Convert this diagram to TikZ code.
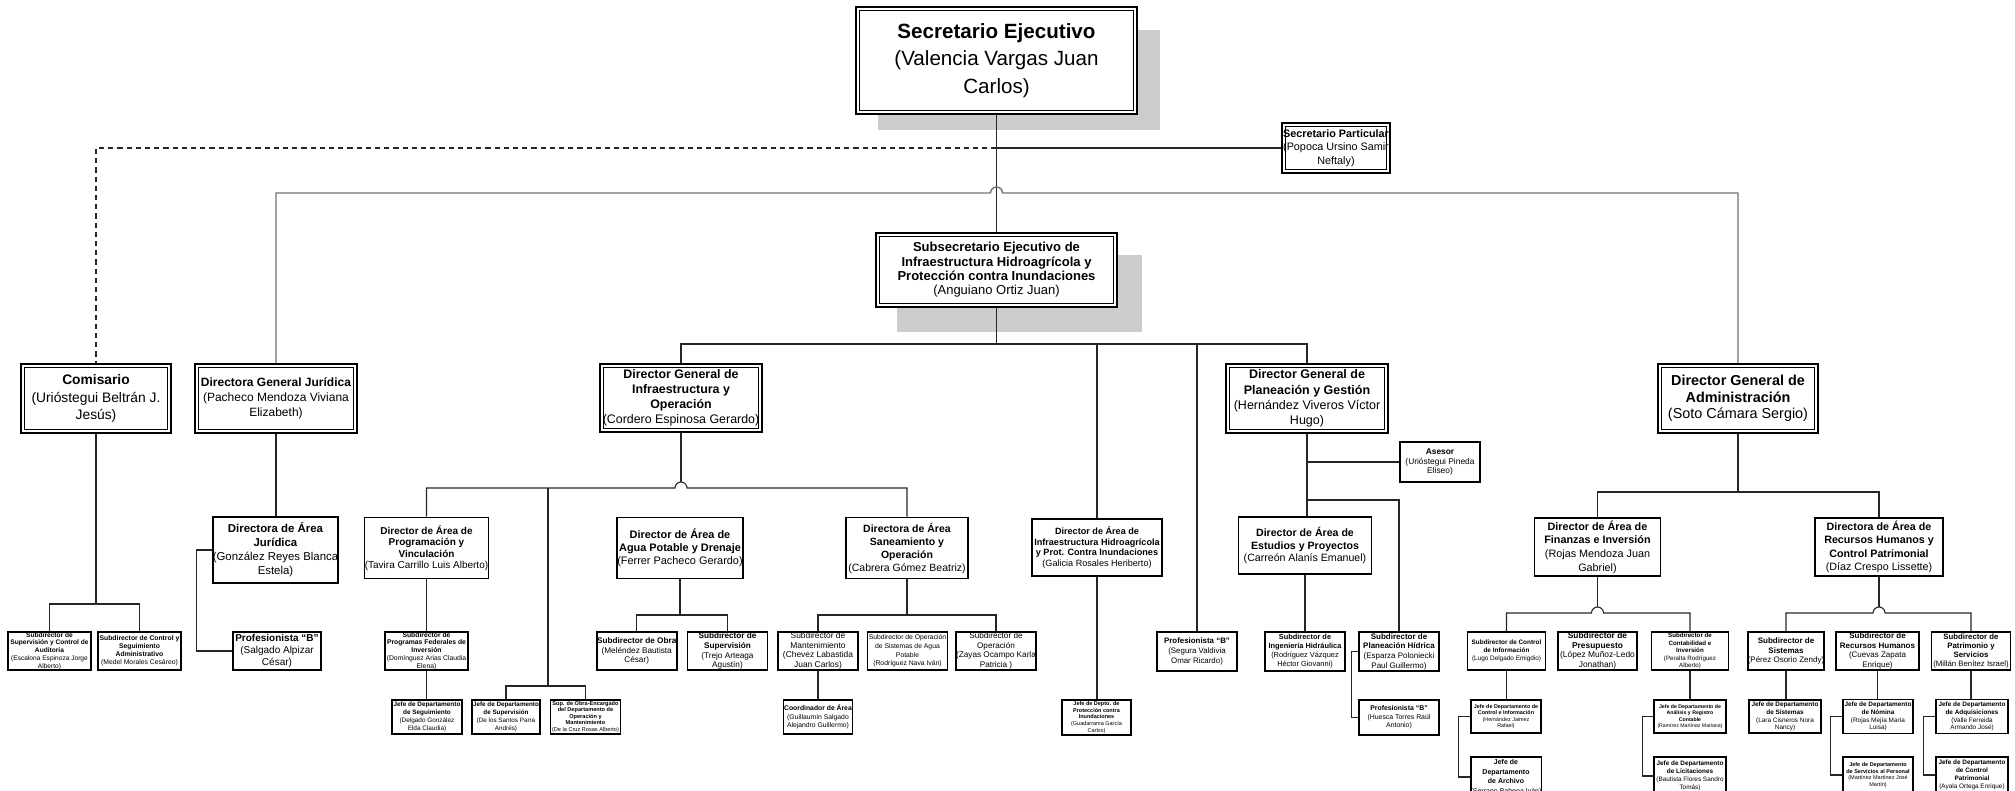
\documentclass[tikz,border=0pt]{standalone}
\usepackage{fontspec}
\setmainfont{Liberation Sans}
\usetikzlibrary{calc}
\newcommand\fs[2]{\fontsize{#1pt}{#2pt}\selectfont}
\newcommand\B[1]{\textbf{#1}}
\begin{document}
\begin{tikzpicture}[x=0.5pt,y=-0.5pt,
  conn/.style={draw=black!85,line width=0.55pt},
  gconn/.style={draw=black!55,line width=0.7pt},
  dconn/.style={draw=black!85,line width=0.55pt,dash pattern=on 2.6pt off 2pt},
  bx/.style 2 args={minimum width=#1*0.5pt,minimum height=#2*0.5pt,inner sep=0pt,align=center},
  obox/.style={draw,line width=0.9pt,fill=white},
  dbox/.style={draw,line width=1pt,fill=white,path picture={\draw[line width=0.45pt] ([shift={(1.7pt,-1.7pt)}]path picture bounding box.north west) rectangle ([shift={(-1.7pt,1.7pt)}]path picture bounding box.south east);}},
  shd/.style={fill=black!20}
]
\useasboundingbox (0,0) rectangle (2015,791);
\clip (0,0) rectangle (2015,791);
% shadows
\fill[shd] (878,30) rectangle (1160,130);
\fill[shd] (897,255) rectangle (1142,332);

% top level
\node[dbox,bx={281}{107},font=\fs{10.3}{13.75}] (A) at (996.5,60.5) {\B{Secretario Ejecutivo}\\(Valencia Vargas Juan\\Carlos)};
\node[dbox,bx={108}{50},font=\fs{5.4}{6.7}] (B) at (1336,148) {\B{Secretario Particular}\\(Popoca Ursino Samir\\Neftaly)};
\node[dbox,bx={241}{74},font=\fs{6.5}{7.2}] (C) at (996.5,270) {\B{Subsecretario Ejecutivo de}\\\B{Infraestructura Hidroagrícola y}\\\B{Protección contra Inundaciones}\\(Anguiano Ortiz Juan)};

% row 2
\node[dbox,bx={150}{69},font=\fs{6.9}{8.75}] (D) at (96,398.5) {\B{Comisario}\\(Urióstegui Beltrán J.\\Jesús)};
\node[dbox,bx={162}{69},font=\fs{6}{7.35}] (E) at (276,398.5) {\B{Directora General Jurídica}\\(Pacheco Mendoza Viviana\\Elizabeth)};
\node[dbox,bx={162}{68},font=\fs{6.2}{7.5}] (F) at (681,398) {\B{Director General de}\\\B{Infraestructura y}\\\B{Operación}\\(Cordero Espinosa Gerardo)};
\node[dbox,bx={162}{69},font=\fs{6.25}{7.6}] (G) at (1307,398.5) {\B{Director General de}\\\B{Planeación y Gestión}\\(Hernández Viveros Víctor\\Hugo)};
\node[dbox,bx={160}{69},font=\fs{7.2}{8.3}] (H) at (1738,398.5) {\B{Director General de}\\\B{Administración}\\(Soto Cámara Sergio)};

% row 3
\node[obox,bx={123}{66},font=\fs{5.7}{7}] (J) at (275.5,550) {\B{Directora de Área}\\\B{Jurídica}\\(González Reyes Blanca\\Estela)};
\node[obox,bx={124}{61},font=\fs{5}{5.7}] (L) at (426.5,548) {\B{Director de Área de}\\\B{Programación y}\\\B{Vinculación}\\(Tavira Carrillo Luis Alberto)};
\node[obox,bx={123}{61},font=\fs{5.45}{6.5}] (M) at (680,548) {\B{Director de Área de}\\\B{Agua Potable y Drenaje}\\(Ferrer Pacheco Gerardo)};
\node[obox,bx={122}{61},font=\fs{5.25}{6.5}] (N) at (907,548) {\B{Directora de Área}\\\B{Saneamiento y}\\\B{Operación}\\(Cabrera Gómez Beatriz)};
\node[obox,bx={130}{57},font=\fs{4.55}{5.35}] (V) at (1097,547.5) {\B{Director de Área de}\\\B{Infraestructura Hidroagrícola}\\\B{y Prot. Contra Inundaciones}\\(Galicia Rosales Heriberto)};
\node[obox,bx={133}{57},font=\fs{5.3}{6.25}] (Y) at (1305,545.5) {\B{Director de Área de}\\\B{Estudios y Proyectos}\\(Carreón Alanís Emanuel)};
\node[obox,bx={126}{58},font=\fs{5.4}{6.85}] (Fin) at (1597.5,547) {\B{Director de Área de}\\\B{Finanzas e Inversión}\\(Rojas Mendoza Juan\\Gabriel)};
\node[obox,bx={128}{58},font=\fs{5.35}{6.75}] (RH) at (1879,547) {\B{Directora de Área de}\\\B{Recursos Humanos y}\\\B{Control Patrimonial}\\(Díaz Crespo Lissette)};
\node[obox,bx={80}{40},font=\fs{4.2}{4.8},line width=0.7pt] (As) at (1440,462) {\B{Asesor}\\(Urióstegui Pineda\\Eliseo)};

% row 4
\node[obox,bx={83}{38},font=\fs{3.3}{3.9}] (I1) at (49.5,651) {\B{Subdirector de}\\\B{Supervisión y Control de}\\\B{Auditoría}\\(Escalona Espinoza Jorge\\Alberto)};
\node[obox,bx={83}{38},font=\fs{3.4}{4.0}] (I2) at (139.5,651) {\B{Subdirector de Control y}\\\B{Seguimiento}\\\B{Administrativo}\\(Medel Morales Cesáreo)};
\node[obox,bx={88}{38},font=\fs{5}{6.1}] (K) at (277,651) {\B{Profesionista “B”}\\(Salgado Alpizar\\César)};
\node[obox,bx={83}{38},font=\fs{3.4}{3.9}] (O) at (426.5,651) {\B{Subdirector de}\\\B{Programas Federales de}\\\B{Inversión}\\(Domínguez Arias Claudia\\Elena)};
\node[obox,bx={80}{38},font=\fs{4.1}{4.9}] (S) at (636.7,651) {\B{Subdirector de Obra}\\(Meléndez Bautista\\César)};
\node[obox,bx={80}{38},font=\fs{4.1}{4.9}] (T) at (727.5,651) {\B{Subdirector de}\\\B{Supervisión}\\(Trejo Arteaga\\Agustín)};
\node[obox,bx={80}{38},font=\fs{4.2}{4.75}] (U0) at (818,651) {Subdirector de\\Mantenimiento\\(Chevez Labastida\\Juan Carlos)};
\node[obox,bx={80}{38},font=\fs{3.4}{4.3}] (U1) at (907.5,651) {Subdirector de Operación\\de Sistemas de Agua\\Potable\\(Rodríguez Nava Iván)};
\node[obox,bx={80}{38},font=\fs{4.1}{4.75}] (U2) at (996,651) {Subdirector de\\Operación\\(Zayas Ocampo Karla\\Patricia )};
\node[obox,bx={80}{39},font=\fs{3.95}{4.85}] (X) at (1197,651.5) {\B{Profesionista “B”}\\(Segura Valdivia\\Omar Ricardo)};
\node[obox,bx={80}{39},font=\fs{3.7}{4.5}] (Z1) at (1305,651.5) {\B{Subdirector de}\\\B{Ingeniería Hidráulica}\\(Rodríguez Vázquez\\Héctor Giovanni)};
\node[obox,bx={80}{39},font=\fs{4}{4.85}] (Z2) at (1399,651.5) {\B{Subdirector de}\\\B{Planeación Hídrica}\\(Esparza Poloniecki\\Paul Guillermo)};
\node[obox,bx={78}{38},font=\fs{3.2}{4.0}] (FS1) at (1506.5,651) {\B{Subdirector de Control}\\\B{de Información}\\(Lugo Delgado Emigdio)};
\node[obox,bx={79}{38},font=\fs{4.2}{4.8}] (FS2) at (1597.5,651) {\B{Subdirector de}\\\B{Presupuesto}\\(López Muñoz-Ledo\\Jonathan)};
\node[obox,bx={77}{38},font=\fs{3.1}{3.7}] (FS3) at (1690,651) {\B{Subdirector de}\\\B{Contabilidad e}\\\B{Inversión}\\(Peralta Rodríguez\\Alberto)};
\node[obox,bx={76}{38},font=\fs{4.0}{4.8}] (RS1) at (1786,651) {\B{Subdirector de}\\\B{Sistemas}\\(Pérez Osorio Zendy)};
\node[obox,bx={83}{38},font=\fs{4.0}{4.7}] (RS2) at (1877.5,651) {\B{Subdirector de}\\\B{Recursos Humanos}\\(Cuevas Zapata\\Enrique)};
\node[obox,bx={79}{38},font=\fs{3.9}{4.6}] (RS3) at (1971,651) {\B{Subdirector de}\\\B{Patrimonio y}\\\B{Servicios}\\(Millán Benítez Israel)};

% row 5
\node[obox,bx={70}{34},font=\fs{3.2}{3.9}] (P) at (427,717) {\B{Jefe de Departamento}\\\B{de Seguimiento}\\(Delgado González\\Elda Claudia)};
\node[obox,bx={68}{34},font=\fs{3.15}{3.9}] (Q) at (506,717) {\B{Jefe de Departamento}\\\B{de Supervisión}\\(De los Santos Parra\\Andrés)};
\node[obox,bx={70}{34},font=\fs{2.8}{3.25}] (R) at (585.5,717) {\B{Sup. de Obra-Encargado}\\\B{del Departamento de}\\\B{Operación y}\\\B{Mantenimiento}\\(De la Cruz Rosas Alberto)};
\node[obox,bx={69}{34},font=\fs{3.4}{4.3}] (U) at (818,717) {\B{Coordinador de Área}\\(Guillaumín Salgado\\Alejandro Guillermo)};
\node[obox,bx={69}{35},font=\fs{2.75}{3.35}] (W) at (1096.5,717.5) {\B{Jefe de Depto. de}\\\B{Protección contra}\\\B{Inundaciones}\\(Guadarrama García\\Carlos)};
\node[obox,bx={80}{35},font=\fs{3.45}{4.35}] (Z3) at (1399,717.5) {\B{Profesionista “B”}\\(Huesca Torres Raúl\\Antonio)};
\node[obox,bx={70}{33},font=\fs{2.7}{3.3}] (JF1) at (1506,716.5) {\B{Jefe de Departamento de}\\\B{Control e Información}\\(Hernández Jaimez\\Rafael)};
\node[obox,bx={72}{33},font=\fs{2.6}{3.2}] (JC1) at (1690,716.5) {\B{Jefe de Departamento de}\\\B{Análisis y Registro}\\\B{Contable}\\(Ramírez Martínez Mariana)};
\node[obox,bx={72}{33},font=\fs{3.2}{3.9}] (JS1) at (1785,716.5) {\B{Jefe de Departamento}\\\B{de Sistemas}\\(Lara Cisneros Nora\\Nancy)};
\node[obox,bx={70}{34},font=\fs{3.2}{3.9}] (JR1) at (1878,716.5) {\B{Jefe de Departamento}\\\B{de Nómina}\\(Rojas Mejía María\\Luisa)};
\node[obox,bx={72}{34},font=\fs{3.2}{3.9}] (JP1) at (1972,716.5) {\B{Jefe de Departamento}\\\B{de Adquisiciones}\\(Valle Ferreida\\Armando José)};

% row 6
\node[obox,bx={70}{40},font=\fs{3.5}{4.75}] (JF2) at (1506,777) {\B{Jefe de}\\\B{Departamento}\\\B{de Archivo}\\(Serrano Bahena Iván)};
\node[obox,bx={72}{38},font=\fs{3.2}{3.9}] (JC2) at (1690,776) {\B{Jefe de Departamento}\\\B{de Licitaciones}\\(Bautista Flores Sandro\\Tomás)};
\node[obox,bx={70}{36},font=\fs{2.75}{3.3}] (JR2) at (1878,775) {\B{Jefe de Departamento}\\\B{de Servicios al Personal}\\(Martínez Martínez José\\Martín)};
\node[obox,bx={72}{36},font=\fs{3.2}{3.9}] (JP2) at (1972,775) {\B{Jefe de Departamento}\\\B{de Control}\\\B{Patrimonial}\\(Ayala Ortega Enrique)};

% junction levels
\coordinate (y193) at (0,193);
\coordinate (y344) at (0,344);
\coordinate (y488) at (0,488);
\coordinate (y492) at (0,492);
\coordinate (y500) at (0,500);
\coordinate (y604) at (0,604);
\coordinate (y613) at (0,613);
\coordinate (y615) at (0,615);
\coordinate (y686) at (0,686);
\coordinate (j0) at (A.south |- B.west);
\coordinate (b1) at (548,488);

% top connectors
\draw[conn] (A.south) -- (A.south |- C.north);
\draw[conn] (j0) -- (B.west);
\draw[dconn] (j0) -| (D.north);
\draw[gconn] (E.north) |- ([xshift=-3pt]A.south |- y193) arc (180:0:3pt) -| (H.north);
\draw[conn] (C.south) -- (C.south |- y344);
\draw[conn] (F.north) -- (F.north |- y344) -- (G.north |- y344) -- (G.north);
\draw[conn] (V.north) -- (V.north |- y344);
\draw[conn] (X.north) -- (X.north |- y344);

% Comisario
\draw[conn] (D.south) -- (D.south |- y604);
\draw[conn] (I1.north) |- (I2.north |- y604) -- (I2.north);
% Juridica
\draw[conn] (E.south) -- (E.south |- J.north);
\draw[conn] (J.west) -- ++(-15,0) |- (K.west);
% DGIO
\draw[conn] (F.south) -- ([yshift=3pt]F.south |- y488);
\draw[conn] (L.north) |- ([xshift=-3pt]F.south |- y488) arc (180:0:3pt) -| (N.north);
\draw[conn] (b1) -- (b1 |- y686);
\draw[conn] (Q.north) |- (R.north |- y686) -- (R.north);
\draw[conn] (L.south) -- (L.south |- O.north);
\draw[conn] (O.south) -- (O.south |- P.north);
\draw[conn] (M.south) -- (M.south |- y615);
\draw[conn] (S.north) |- (T.north |- y615) -- (T.north);
\draw[conn] (N.south) -- (N.south |- y615);
\draw[conn] (U0.north) |- (U2.north |- y615) -- (U2.north);
\draw[conn] (U0.south) -- (U0.south |- U.north);
% Hidroagricola
\draw[conn] (V.south) -- (V.south |- W.north);
% DGP
\draw[conn] (G.south) -- (G.south |- Y.north);
\draw[conn] (G.south |- As.west) -- (As.west);
\draw[conn] (G.south |- y500) -| (Z2.north);
\draw[conn] (Y.south) -- (Y.south |- Z1.north);
\draw[conn] (Z2.west) -- ++(-7,0) |- (Z3.west);
% DGA
\draw[conn] (H.south) -- (H.south |- y492);
\draw[conn] (Fin.north) |- (RH.north |- y492) -- (RH.north);
\draw[conn] (Fin.south) -- ([yshift=3pt]Fin.south |- y613);
\draw[conn] (FS1.north) |- ([xshift=-3pt]Fin.south |- y613) arc (180:0:3pt) -| (FS3.north);
\draw[conn] (RH.south) -- ([yshift=3pt]RH.south |- y613);
\draw[conn] (RS1.north) |- ([xshift=-3pt]RH.south |- y613) arc (180:0:3pt) -| (RS3.north);
\draw[conn] (FS1.south) -- (FS1.south |- JF1.north);
\draw[conn] (JF1.west) -- ++(-12,0) |- (JF2.west);
\draw[conn] (FS3.south) -- (FS3.south |- JC1.north);
\draw[conn] (JC1.west) -- ++(-11,0) |- (JC2.west);
\draw[conn] (RS1.south) -- (RS1.south |- JS1.north);
\draw[conn] (RS2.south) -- (RS2.south |- JR1.north);
\draw[conn] (JR1.west) -- ++(-12,0) |- (JR2.west);
\draw[conn] (RS3.south) -- (RS3.south |- JP1.north);
\draw[conn] (JP1.west) -- ++(-12,0) |- (JP2.west);
\end{tikzpicture}
\end{document}
